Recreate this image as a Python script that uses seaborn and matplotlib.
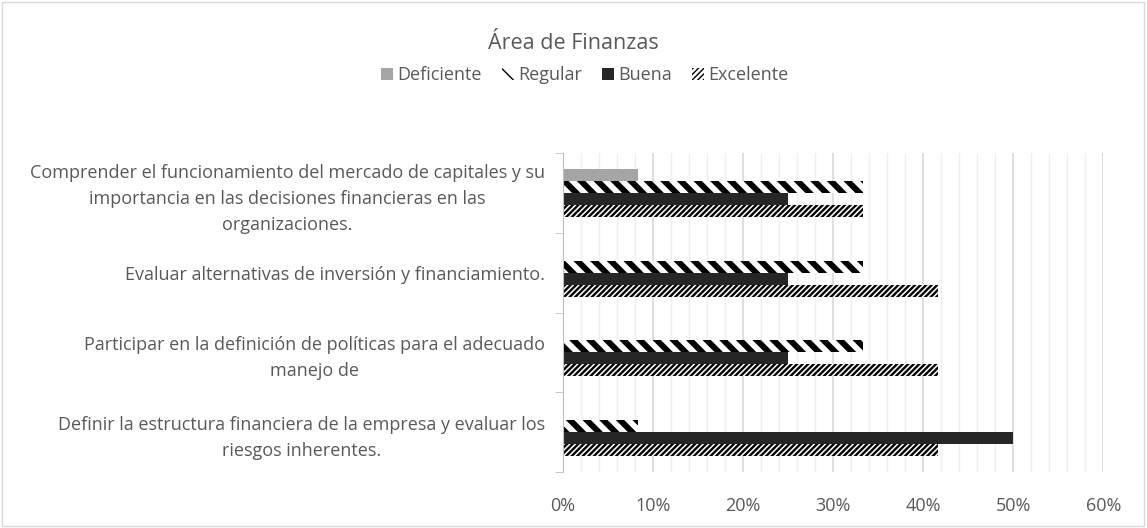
import matplotlib
matplotlib.use("Agg")
import matplotlib.pyplot as plt
from matplotlib.patches import Rectangle, Patch
from matplotlib.ticker import FixedLocator, MultipleLocator, PercentFormatter
import pandas as pd
import seaborn as sns

# datos
competencias = [
    "Comprender el funcionamiento del mercado de capitales y su\nimportancia en las decisiones financieras en las\norganizaciones.",
    "Evaluar alternativas de inversión y financiamiento.",
    "Participar en la definición de políticas para el adecuado\nmanejo de",
    "Definir la estructura financiera de la empresa y evaluar los\nriesgos inherentes.",
]
niveles = ["Deficiente", "Regular", "Buena", "Excelente"]
deficiente = [0.0833, 0.0, 0.0, 0.0]
regular = [0.3333, 0.3333, 0.3333, 0.0833]
buena = [0.25, 0.25, 0.25, 0.50]
excelente = [0.3333, 0.4167, 0.4167, 0.4167]

colores = {"Deficiente": "#a5a5a5", "Regular": "white", "Buena": "#262626", "Excelente": "white"}
tramas = {"Deficiente": "", "Regular": "\\\\", "Buena": "", "Excelente": "//////"}
grosor_trama = {"Deficiente": 1, "Regular": 4.3, "Buena": 1, "Excelente": 1.7}

filas = []
for i, c in enumerate(competencias):
    for n, vals in zip(niveles, [deficiente, regular, buena, excelente]):
        filas.append({"competencia": c, "nivel": n, "valor": vals[i]})
df = pd.DataFrame(filas)

sns.set_style("white")
plt.rcParams['font.family'] = ['Open Sans', 'DejaVu Sans']
gris = "#595959"

fig = plt.figure(figsize=(11.47, 5.28), dpi=100)
ax = fig.add_axes([0.491, 0.106, 0.471, 0.604])

sns.barplot(data=df, y="competencia", x="valor", hue="nivel", hue_order=niveles,
            order=competencias, orient="h", width=0.6, palette=colores,
            linewidth=0, edgecolor="black", legend=False, ax=ax)

# aplicar tramas a cada barra
for cont, n in zip(ax.containers, niveles):
    for b in cont:
        b.set_hatch(tramas[n])
        b.set_edgecolor("black")
        b.set_linewidth(0)
        if hasattr(b, "set_hatch_linewidth"):
            b.set_hatch_linewidth(grosor_trama[n])

ax.set_xlim(0, 0.6)
ax.set_ylim(3.5, -0.5)
ax.xaxis.set_major_locator(MultipleLocator(0.1))
ax.xaxis.set_minor_locator(MultipleLocator(0.02))
ax.xaxis.set_major_formatter(PercentFormatter(1.0, decimals=0))
ax.grid(axis="x", which="major", color="#d9d9d9", linewidth=1.2)
ax.grid(axis="x", which="minor", color="#efefef", linewidth=1.0)
ax.set_axisbelow(True)

ax.yaxis.set_minor_locator(FixedLocator([-0.5, 0.5, 1.5, 2.5, 3.5]))
ax.tick_params(axis="y", which="major", length=0, pad=13, labelsize=13, labelcolor=gris)
ax.tick_params(axis="y", which="minor", length=6, color="#bfbfbf", left=True)
ax.tick_params(axis="x", which="both", length=0, labelsize=13, labelcolor=gris, pad=18)
for t in ax.get_yticklabels():
    t.set_multialignment("center")
    t.set_linespacing(1.55)

for s in ["top", "right", "bottom"]:
    ax.spines[s].set_visible(False)
ax.spines["left"].set_color("#bfbfbf")
ax.set_xlabel("")
ax.set_ylabel("")

fig.text(0.5, 0.918, "Área de Finanzas", ha="center", va="center", fontsize=15.5, color=gris)

manejadores = []
for n in niveles:
    p = Patch(facecolor=colores[n], edgecolor="black", hatch=tramas[n], linewidth=0)
    manejadores.append(p)
fig.legend(manejadores, niveles, loc="center", bbox_to_anchor=(0.51, 0.858), ncol=4,
           frameon=False, fontsize=13, labelcolor=gris, handlelength=0.65,
           handleheight=0.65, handletextpad=0.25, columnspacing=1.1)

fig.add_artist(Rectangle((0.002, 0.003), 0.995, 0.993, transform=fig.transFigure,
                         fill=False, edgecolor="#d9d9d9", linewidth=1))

plt.savefig("out.png", dpi=100)
